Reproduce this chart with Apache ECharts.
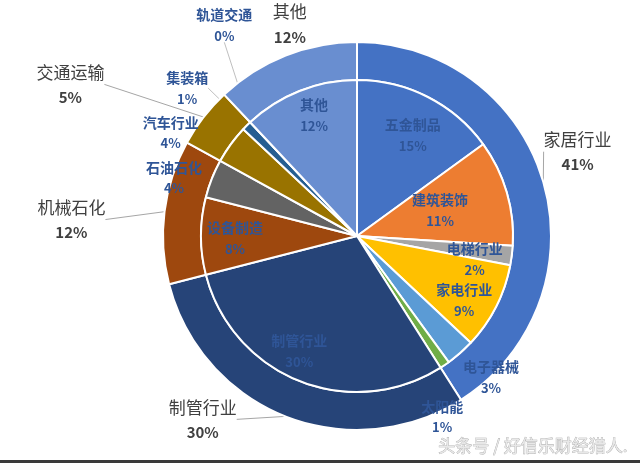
<!DOCTYPE html>
<html>
<head>
<meta charset="utf-8">
<script src="https://cdn.jsdelivr.net/npm/echarts@6/dist/echarts.min.js"></script>
<style>
html,body{margin:0;padding:0;background:#fff;}
#chart{width:640px;height:463px;}
</style>
</head>
<body>
<div id="chart"></div>
<script>
// ---- data ----
const innerNames = ['五金制品','建筑装饰','电梯行业','家电行业','电子器械','太阳能','制管行业','设备制造','石油石化','汽车行业','集装箱','轨道交通','其他'];
const innerValues = [15, 11, 2, 9, 3, 1, 30, 8, 4, 4, 1, 0, 12];
const outerNames = ['家居行业','制管行业','机械石化','交通运输','其他'];
const outerValues = [41, 30, 12, 5, 12];

// ---- styles / layout ----
const innerColors = ['#4472C4','#ED7D31','#A5A5A5','#FFC000','#5B9BD5','#70AD47','#264478','#9E480E','#636363','#997300','#255E91','#43682B','#698ED0'];
const outerColors = ['#4472C4','#264478','#9E480E','#997300','#698ED0'];
// [angle offset from slice middle (deg), radius (px)]
const innerLabelPlace = [[2,115],[-1,87],[4,120],[4,125],[-2,195],[9,200],[5,129],[-1,122],[-4,192],[-7,213],[-4,225],[11,249],[2,128]];
const innerLabelLine = [false,false,false,false,false,true,false,false,false,true,true,true,false];
const outerLabelPlace = [[-4.6,236],[18.4,240],[-4,286],[-10,324],[4,222]];
const outerLabelLine = [true,true,true,true,false];

const CX = 357, CY = 236;

function midAngles(values){
  const total = values.reduce((a,b)=>a+b,0);
  let acc = 0;
  return values.map(v => { const m = (acc + v/2)/total*360; acc += v; return m; });
}
const innerMid = midAngles(innerValues);
const outerMid = midAngles(outerValues);

function makeLayout(mids, place){
  return function(params){
    const i = params.dataIndex;
    const a = (mids[i] + place[i][0]) * Math.PI / 180;
    const r = place[i][1];
    return { x: CX + r*Math.sin(a), y: CY - r*Math.cos(a), align:'center', verticalAlign:'middle' };
  };
}

const FONT = '"Noto Sans CJK SC", "Noto Sans", sans-serif';

const chart = echarts.init(document.getElementById('chart'), null, {renderer:'canvas'});
chart.setOption({
  backgroundColor:'#ffffff',
  animation:false,
  series:[
    {
      type:'pie',
      center:[CX, CY],
      radius:[156, 194],
      startAngle:90,
      clockwise:true,
      avoidLabelOverlap:false,
      itemStyle:{borderColor:'#ffffff', borderWidth:2},
      label:{
        show:true,
        position:'outside',
        formatter:'{n|{b}}\n{p|{c}%}',
        rich:{
          n:{fontSize:17, color:'#404040', fontFamily:FONT, lineHeight:25},
          p:{fontSize:15, color:'#404040', fontWeight:'bold', fontFamily:FONT, lineHeight:25}
        }
      },
      labelLine:{lineStyle:{color:'#A6A6A6', width:1}, length:10, length2:0, smooth:false},
      labelLayout: makeLayout(outerMid, outerLabelPlace),
      data: outerNames.map((n,i)=>({name:n, value:outerValues[i], itemStyle:{color:outerColors[i]}, labelLine:{show:outerLabelLine[i]}}))
    },
    {
      type:'pie',
      center:[CX, CY],
      radius:[0, 156],
      startAngle:90,
      clockwise:true,
      avoidLabelOverlap:false,
      itemStyle:{borderColor:'#ffffff', borderWidth:2},
      label:{
        show:true,
        position:'outside',
        formatter:'{n|{b}}\n{p|{c}%}',
        rich:{
          n:{fontSize:14, color:'#2F5597', fontWeight:'bold', fontFamily:FONT, lineHeight:21},
          p:{fontSize:13, color:'#2F5597', fontWeight:'bold', fontFamily:FONT, lineHeight:21}
        }
      },
      labelLine:{lineStyle:{color:'#BFBFBF', width:1}, length:10, length2:0, smooth:false},
      labelLayout: makeLayout(innerMid, innerLabelPlace),
      data: innerNames.map((n,i)=>({name:n, value:innerValues[i], itemStyle:{color:innerColors[i]}, labelLine:{show:innerLabelLine[i]}}))
    }
  ],
  graphic:[
    {type:'text', left:438, top:437, style:{text:'头条号 / 好信乐财经猎人.', fontSize:17, fontFamily:FONT, fill:'#e8e8e8', stroke:'#a8a8a8', lineWidth:0.7}},
    {type:'rect', shape:{x:0, y:460, width:640, height:3}, style:{fill:'#3a3a3a'}}
  ]
});
</script>
</body>
</html>
